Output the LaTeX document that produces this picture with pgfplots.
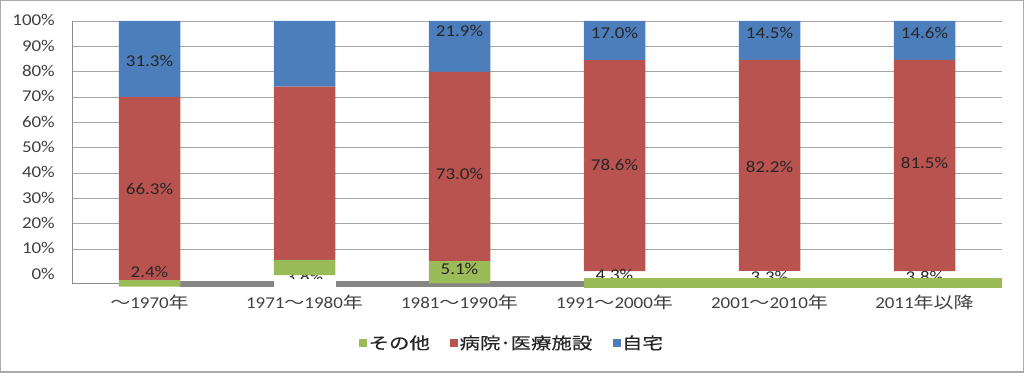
\documentclass[border=0pt]{standalone}
\usepackage{pgfplots}
\pgfplotsset{compat=1.18}
\usepackage{pgfplotstable}
\usepackage{fontspec}
\setmainfont{Carlito}[FakeStretch=1.15]
\newfontfamily\jp{Noto Sans CJK JP}[FakeStretch=1.25, Scale=0.97]
\newfontfamily\jpl{Noto Sans CJK JP}[FakeStretch=1.25, Scale=0.99, FakeBold=0.4]
\definecolor{cgreen}{HTML}{9BBB59}
\definecolor{cred}{HTML}{B9534F}
\definecolor{cblue}{HTML}{4D7EBC}
\definecolor{stripgray}{HTML}{858585}
\definecolor{gridgray}{HTML}{A6A6A6}
\definecolor{axisgray}{HTML}{8C8C8C}
\definecolor{framegray}{HTML}{ABABAB}
\definecolor{ticktext}{HTML}{404040}
\definecolor{labeltext}{HTML}{262626}
\definecolor{legendtext}{HTML}{262626}

% stacked geometry as drawn in the picture; the bar axis is shifted by +10
% (base = bottom of the lowest segment + 10, then green, red, blue heights)
\pgfplotstableread{
x  base   green  red    blue
0  5.10   2.65   72.25  30.00
1  9.72   5.93   68.41  25.94
2  6.45   8.80   74.65  20.10
3  11.30  0.00   83.30  15.40
4  11.40  0.00   83.30  15.30
5  11.30  0.00   83.40  15.30
}\bars

\pgfplotsset{common/.style={
  scale only axis, width=930bp, height=262.7bp,
  xmin=-0.5, xmax=5.5, ymin=-3.71, ymax=100,
  clip=false, at={(0,0)}, anchor=south west},
  lbl/.style={draw=none, mark=none, point meta=explicit symbolic, nodes near coords,
  every node near coord/.append style={anchor=base, inner sep=0pt, text=labeltext}}}

\begin{document}
\begin{tikzpicture}[font=\fontsize{16.5bp}{19bp}\selectfont]
\path[use as bounding box] (-72bp,-108.3bp) rectangle (952bp,283.7bp);
\draw[color=framegray, line width=1.5bp] (-71.25bp,-88.05bp) rectangle (951.25bp,282.95bp);

% background axis: grid, axis lines, tick labels, gray strip
\begin{axis}[common,
  axis x line*=bottom, axis y line*=left,
  axis line style={draw=axisgray, line width=0.8bp},
  ytick={10,20,...,100},
  yticklabels={10\%,20\%,30\%,40\%,50\%,60\%,70\%,80\%,90\%,100\%},
  extra y ticks={0}, extra y tick labels={0\%}, extra y tick style={grid=none},
  ymajorgrids, grid style={draw=gridgray, line width=0.8bp},
  xtick={0,1,2,3,4,5},
  xticklabels={{\jp ～}1970{\jp 年},1971{\jp ～}1980{\jp 年},1981{\jp ～}1990{\jp 年},1991{\jp ～}2000{\jp 年},2001{\jp ～}2010{\jp 年},2011{\jp 年以降}},
  major tick length=0pt,
  tick label style={text=ticktext},
  yticklabel style={anchor=base east, inner sep=0pt, xshift=-17bp, yshift=-5bp},
  xticklabel style={anchor=base, inner sep=0pt, yshift=-24.3bp},
]
\addplot[fill=stripgray, draw=none] coordinates {(0.197,-2.5) (2.803,-2.5) (2.803,-4.9) (0.197,-4.9)};
\end{axis}

% label of the second bar's green part, which lies behind the bar
\begin{axis}[common, hide axis]
\addplot[lbl] coordinates {(1,-3.3)[3.8\%]};
\end{axis}

% bars (y shifted by +10 so that all stacked values are positive)
\begin{axis}[common, ymin=6.29, ymax=110, hide axis, ybar stacked, bar width=61.5bp,
  legend style={at={(0.473,-0.2257)}, anchor=center, draw=none, fill=none,
    legend columns=3, font=\jpl\fontsize{16.5bp}{19bp}\selectfont, text=legendtext,
    /tikz/every even column/.append style={column sep=19bp},
    nodes={inner sep=1.5bp}},
  legend image code/.code={\fill[#1] (0bp,-3.85bp) rectangle (7.7bp,3.85bp);},
]
\addplot[draw=none, fill=none, forget plot] table[x=x, y=base] {\bars};
\addplot[fill=cgreen, draw=none] table[x=x, y=green] {\bars};
\addplot[fill=cred, draw=none] table[x=x, y=red] {\bars};
\addplot[fill=cblue, draw=none] table[x=x, y=blue] {\bars};
\legend{その他,病院･医療施設,自宅}
\end{axis}

% data labels
\begin{axis}[common, hide axis]
\addplot[lbl] coordinates {
(0,82.0)[31.3\%] (0,31.7)[66.3\%] (0,-1.2)[2.4\%]
(2,93.7)[21.9\%] (2,37.6)[73.0\%] (2,0.0)[5.1\%]
(3,93.2)[17.0\%] (3,40.9)[78.6\%] (3,-2.5)[4.3\%]
(4,93.2)[14.5\%] (4,40.3)[82.2\%] (4,-3.4)[3.3\%]
(5,93.2)[14.6\%] (5,41.8)[81.5\%] (5,-3.4)[3.8\%]
};
\end{axis}

% overlays that hide the lower parts of some labels
\begin{axis}[common, hide axis]
\addplot[fill=cgreen, draw=none] coordinates {(2.803,-1.58) (5.498,-1.58) (5.498,-5.53) (2.803,-5.53)};
\addplot[fill=white, draw=none] coordinates {(0.803,-2.0) (1.203,-2.0) (1.203,-5.0) (0.803,-5.0)};
\end{axis}
\end{tikzpicture}
\end{document}
